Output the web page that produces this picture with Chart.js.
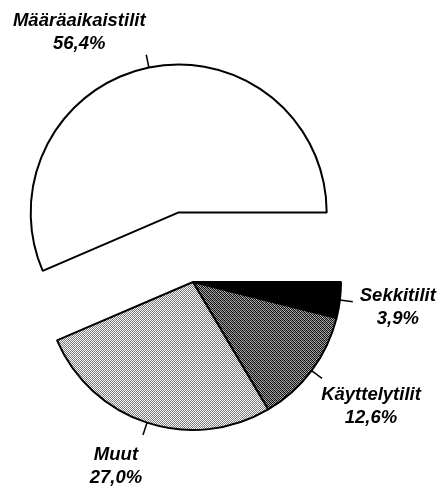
<!DOCTYPE html>
<html lang="fi">
<head>
<meta charset="utf-8">
<title>Tilit</title>
<script src="https://cdn.jsdelivr.net/npm/chart.js@4/dist/chart.umd.min.js"></script>
<style>
    html, body { margin: 0; padding: 0; background: #ffffff; }
    canvas { display: block; }
</style>
</head>
<body>
<canvas id="accountChart" width="441" height="488"></canvas>
<script>
// Account shares, clockwise from 3 o'clock
const categories = ['Sekkitilit', 'Käyttelytilit', 'Muut', 'Määräaikaistilit'];
const shares = [3.9, 12.6, 27.0, 56.4];
const shareLabels = ['3,9%', '12,6%', '27,0%', '56,4%'];

// Which slice is pulled out of the pie
const explodedIndex = 3;
const explodeDistance = 71;

// Label placement relative to the end of each leader line
const labelOffsets = [
    { dx: 45, dy: -1 },
    { dx: 49, dy: 22 },
    { dx: -27, dy: 25 },
    { dx: -67, dy: -29 }
];

// 4x4 dither tiles like the printed shading
function makePattern(rows) {
    const tile = document.createElement('canvas');
    tile.width = 4;
    tile.height = 4;
    const t = tile.getContext('2d');
    rows.forEach((row, y) => {
        row.forEach((shade, x) => {
            t.fillStyle = 'rgb(' + shade + ',' + shade + ',' + shade + ')';
            t.fillRect(x, y, 1, 1);
        });
    });
    return t.createPattern(tile, 'repeat');
}

const darkDither = makePattern([
    [0, 170, 30, 140],
    [150, 15, 190, 40],
    [40, 140, 0, 170],
    [190, 25, 150, 10]
]);

const lightDither = makePattern([
    [255, 120, 240, 140],
    [130, 250, 110, 255],
    [235, 140, 255, 120],
    [110, 255, 130, 245]
]);

const sliceColors = ['#000000', darkDither, lightDither, '#ffffff'];

// Move the exploded slice away from the centre along its mid angle
const explodePlugin = {
    id: 'explode',
    afterDatasetUpdate(chart, args) {
        const arc = args.meta.data[explodedIndex];
        if (!arc) return;
        const mid = (arc.startAngle + arc.endAngle) / 2;
        arc.x += Math.cos(mid) * explodeDistance;
        arc.y += Math.sin(mid) * explodeDistance;
    }
};

// Leader lines and two-line labels
const labelPlugin = {
    id: 'sliceLabels',
    afterDatasetsDraw(chart) {
        const ctx = chart.ctx;
        const arcs = chart.getDatasetMeta(0).data;
        ctx.save();
        ctx.strokeStyle = '#000000';
        ctx.lineWidth = 1.5;
        ctx.fillStyle = '#000000';
        ctx.font = 'italic bold 18.5px "Liberation Sans", Arial, sans-serif';
        ctx.textAlign = 'center';
        ctx.textBaseline = 'alphabetic';
        arcs.forEach((arc, i) => {
            const mid = (arc.startAngle + arc.endAngle) / 2;
            const r = arc.outerRadius;
            const x0 = arc.x + Math.cos(mid) * r;
            const y0 = arc.y + Math.sin(mid) * r;
            const x1 = arc.x + Math.cos(mid) * (r + 13);
            const y1 = arc.y + Math.sin(mid) * (r + 13);
            ctx.beginPath();
            ctx.moveTo(x0, y0);
            ctx.lineTo(x1, y1);
            ctx.stroke();

            const lx = x1 + labelOffsets[i].dx;
            const ly = y1 + labelOffsets[i].dy;
            ctx.fillText(categories[i], lx, ly);
            ctx.fillText(shareLabels[i], lx, ly + 23);
        });
        ctx.restore();
    }
};

new Chart(document.getElementById('accountChart'), {
    type: 'pie',
    data: {
        labels: categories,
        datasets: [
            {
                data: shares,
                backgroundColor: sliceColors,
                borderColor: '#000000',
                borderWidth: 2,
                hoverOffset: 0
            }
        ]
    },
    options: {
        responsive: false,
        animation: false,
        devicePixelRatio: 1,
        events: [],
        rotation: 90,
        radius: 148,
        layout: {
            padding: { left: 0, right: 55, top: 76, bottom: 0 }
        },
        plugins: {
            legend: { display: false },
            tooltip: { enabled: false },
            title: { display: false }
        }
    },
    plugins: [explodePlugin, labelPlugin]
});
</script>
</body>
</html>
